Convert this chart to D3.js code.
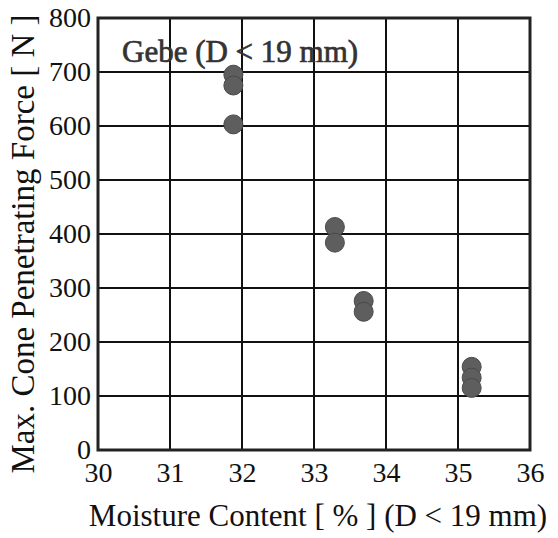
<!DOCTYPE html>
<html>
<head>
<meta charset="utf-8">
<script src="https://cdn.jsdelivr.net/npm/d3@7"></script>
<style>
  html, body { margin: 0; padding: 0; background: #fff; }
  svg { display: block; }
</style>
</head>
<body>
<svg id="chart" width="558" height="538"></svg>
<script>
// Measured cone penetrating force vs. moisture content
const moisture = [31.88, 31.88, 31.88, 33.29, 33.29, 33.69, 33.69, 35.19, 35.19, 35.19];
const force    = [695, 675, 603, 413, 384, 276, 256, 154, 134, 115];
const xTicks = [30, 31, 32, 33, 34, 35, 36];
const yTicks = [0, 100, 200, 300, 400, 500, 600, 700, 800];

const svg = d3.select("#chart");
const margin = { left: 98, right: 28, top: 18, bottom: 88 };
const W = 558, H = 538;
const font = '"Liberation Serif", "Times New Roman", serif';

const x = d3.scaleLinear().domain([30, 36]).range([margin.left, W - margin.right]);
const y = d3.scaleLinear().domain([0, 800]).range([H - margin.bottom, margin.top]);

// grid
const g = svg.append("g");
g.selectAll("line.vg").data(xTicks.slice(1, -1)).enter().append("line")
  .attr("x1", d => x(d)).attr("x2", d => x(d))
  .attr("y1", y(0)).attr("y2", y(800))
  .attr("stroke", "#111").attr("stroke-width", 2);
g.selectAll("line.hg").data(yTicks.slice(1, -1)).enter().append("line")
  .attr("x1", x(30)).attr("x2", x(36))
  .attr("y1", d => y(d)).attr("y2", d => y(d))
  .attr("stroke", "#111").attr("stroke-width", 2);

// series label inside the plot
svg.append("text")
  .attr("x", 122).attr("y", 62)
  .style("font-family", font).style("font-size", "31px")
  .style("fill", "#333").style("stroke", "#333").style("stroke-width", "0.7px")
  .text("Gebe (D < 19 mm)");

// points
svg.append("g").selectAll("circle").data(moisture.map((m, i) => [m, force[i]])).enter()
  .append("circle")
  .attr("cx", d => x(d[0])).attr("cy", d => y(d[1]))
  .attr("r", 9.5)
  .attr("fill", "#5e5e5e").attr("stroke", "#4a4a4a").attr("stroke-width", 1);

// frame
svg.append("rect")
  .attr("x", x(30)).attr("y", y(800))
  .attr("width", x(36) - x(30)).attr("height", y(0) - y(800))
  .attr("fill", "none").attr("stroke", "#222").attr("stroke-width", 3);

// tick labels via d3 axes
const xAxis = d3.axisBottom(x).tickValues(xTicks).tickFormat(d3.format("d")).tickSize(0).tickPadding(12);
const xa = svg.append("g").attr("transform", `translate(0,${y(0)})`).call(xAxis)
  .attr("font-family", null).attr("font-size", null);
xa.select(".domain").remove();
xa.selectAll("text").style("font-family", font).style("font-size", "28px").style("fill", "#111");

const yAxis = d3.axisLeft(y).tickValues(yTicks).tickFormat(d3.format("d")).tickSize(0).tickPadding(7);
const ya = svg.append("g").attr("transform", `translate(${x(30)},0)`).call(yAxis)
  .attr("font-family", null).attr("font-size", null);
ya.select(".domain").remove();
ya.selectAll("text").style("font-family", font).style("font-size", "28px").style("fill", "#111").attr("dy", "0.3em");

// axis titles
svg.append("text")
  .attr("x", 318).attr("y", 526)
  .attr("text-anchor", "middle")
  .style("font-family", font).style("font-size", "31px").style("fill", "#111")
  .text("Moisture Content [ % ] (D < 19 mm)");

svg.append("text")
  .attr("transform", "translate(34,244) rotate(-90)")
  .attr("text-anchor", "middle")
  .style("font-family", font).style("font-size", "33px").style("fill", "#111")
  .text("Max. Cone Penetrating Force [ N ]");
</script>
</body>
</html>
